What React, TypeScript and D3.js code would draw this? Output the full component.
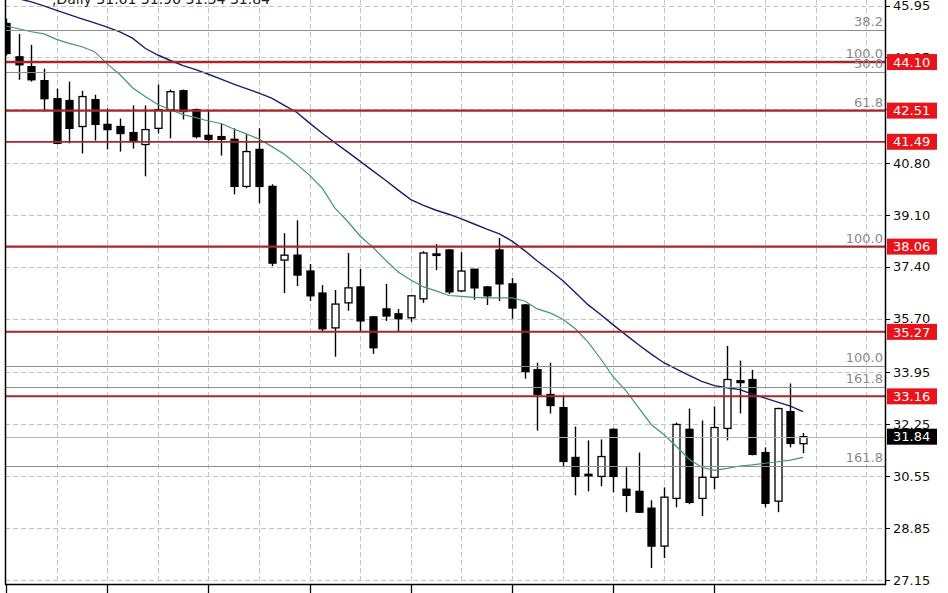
import * as React from 'react'
import { useEffect, useRef } from 'react'
import * as d3 from 'd3'

// daily candles, oldest first
const opens = [45.36, 44.27, 43.95, 43.49, 42.90, 42.84, 41.99, 42.87, 42.06, 41.99, 41.79, 41.40, 41.93, 42.54, 43.16, 42.54,
  41.70, 41.66, 41.57, 40.03, 41.24, 40.03, 37.62, 37.78, 37.26, 36.54, 35.40, 36.22, 36.74, 35.76, 36.02, 35.86,
  35.73, 36.35, 37.82, 37.95, 36.61, 37.32, 36.74, 37.95, 36.84, 36.15, 34.03, 33.22, 32.79, 31.16, 30.61, 30.54,
  32.08, 30.12, 30.05, 29.50, 28.26, 29.82, 32.08, 29.82, 30.51, 32.11, 33.67, 33.71, 31.32, 29.73, 32.66, 31.61]
const highs = [45.52, 45.02, 44.66, 43.88, 43.23, 43.46, 43.16, 43.03, 42.58, 42.25, 42.68, 42.68, 43.36, 43.20, 43.20, 42.58,
  42.51, 42.09, 41.93, 41.73, 41.93, 40.10, 38.50, 38.92, 37.49, 36.80, 36.64, 37.85, 37.33, 35.79, 36.84, 36.02,
  36.48, 37.91, 38.14, 37.98, 37.88, 37.33, 36.77, 38.34, 37.03, 36.18, 34.26, 34.26, 33.18, 32.17, 31.72, 31.75,
  32.11, 30.84, 31.32, 29.76, 30.18, 32.30, 32.76, 32.37, 32.83, 34.81, 34.33, 34.03, 31.49, 32.79, 33.58, 31.96]
const lows = [44.31, 43.52, 43.46, 42.48, 41.41, 41.44, 41.11, 41.53, 41.24, 41.17, 41.27, 40.36, 41.76, 41.60, 42.22, 41.60,
  41.44, 41.04, 39.77, 39.97, 39.48, 37.42, 36.54, 36.77, 36.28, 35.27, 34.46, 35.96, 35.27, 34.55, 35.63, 35.27,
  35.60, 36.22, 37.29, 36.51, 36.58, 36.32, 36.15, 36.28, 35.70, 33.74, 32.04, 32.60, 30.87, 29.92, 30.05, 30.22,
  30.02, 29.37, 29.34, 27.54, 27.87, 29.53, 29.63, 29.24, 30.12, 31.72, 32.60, 31.23, 29.53, 29.37, 31.49, 31.30]
const closes = [44.38, 44.01, 43.52, 42.90, 41.44, 41.93, 42.97, 42.06, 41.89, 41.76, 41.50, 41.89, 42.54, 43.13, 42.48, 41.66,
  41.57, 41.57, 40.03, 41.17, 40.03, 37.52, 37.78, 37.13, 36.45, 35.37, 36.18, 36.71, 35.63, 34.75, 35.79, 35.70,
  36.45, 37.85, 37.78, 36.58, 37.26, 36.71, 36.45, 36.84, 36.05, 33.97, 33.22, 32.86, 31.03, 30.54, 30.57, 31.19,
  30.54, 29.92, 29.37, 28.26, 29.86, 32.24, 29.69, 30.51, 32.14, 33.71, 33.61, 31.26, 29.66, 32.76, 31.62, 31.84]

// moving averages read per candle
const maSlow = [46.26, 46.17, 46.07, 45.94, 45.79, 45.65, 45.51, 45.38, 45.24, 45.09, 44.88, 44.55, 44.33, 44.15, 43.98, 43.85,
  43.70, 43.54, 43.38, 43.23, 43.08, 42.92, 42.68, 42.45, 42.10, 41.77, 41.46, 41.16, 40.85, 40.54, 40.23, 39.91,
  39.60, 39.41, 39.25, 39.12, 38.97, 38.80, 38.63, 38.48, 38.24, 37.93, 37.59, 37.28, 36.95, 36.56, 36.16, 35.84,
  35.50, 35.17, 34.85, 34.54, 34.26, 34.05, 33.85, 33.65, 33.51, 33.44, 33.38, 33.23, 33.10, 32.97, 32.84, 32.66]
const maFast = [45.28, 45.19, 45.09, 45.02, 44.84, 44.71, 44.60, 44.44, 44.04, 43.69, 43.26, 42.97, 42.71, 42.54, 42.38, 42.28,
  42.17, 42.09, 41.91, 41.75, 41.58, 41.34, 41.08, 40.75, 40.39, 39.97, 39.32, 38.89, 38.40, 38.04, 37.62, 37.23,
  36.97, 36.74, 36.61, 36.46, 36.43, 36.40, 36.38, 36.38, 36.38, 36.28, 36.02, 35.89, 35.69, 35.37, 34.94, 34.39,
  33.80, 33.35, 32.79, 32.24, 31.91, 31.52, 31.10, 30.84, 30.74, 30.80, 30.88, 30.92, 30.97, 31.02, 31.07, 31.16]

const priceTicks = [45.95, 44.25, 42.55, 40.80, 39.10, 37.40, 35.70, 33.95, 32.25, 30.55, 28.85, 27.15]
const redLevels = [44.10, 42.51, 41.49, 38.06, 35.27, 33.16]
const redWidths = [2.6, 2.4, 1.8, 2.4, 2, 2]
const fibLines = [45.15, 43.76, 34.16, 33.45, 30.88]
const fibTagValues = [45.15, 44.10, 43.76, 42.51, 38.06, 34.16, 33.45, 30.88]
const fibTagTexts = ['38.2', '100.0', '50.0', '61.8', '100.0', '100.0', '161.8', '161.8']
const lastPrice = 31.84
const header = ',Daily  31.61 31.96 31.54 31.84'

const App = () => {
  const chartRef = useRef<SVGSVGElement>(null)

  useEffect(() => {
    const svg = d3.select(chartRef.current)
    svg.selectAll('*').remove()

    const left = 5, right = 885, bottom = 584
    const font = 'DejaVu Sans, sans-serif'
    const y = d3.scaleLinear().domain([27.15, 45.95]).range([580, 5.5])
    const x = d3.scaleLinear().domain([0, opens.length - 1]).range([6, 803])

    svg.append('rect').attr('width', 948).attr('height', 593).attr('fill', '#fff')

    svg.append('defs').append('clipPath').attr('id', 'plot')
      .append('rect').attr('x', left).attr('y', 0).attr('width', right - left).attr('height', bottom)

    const grid = svg.append('g').attr('stroke', '#c4c4c4').attr('stroke-dasharray', '5,3')
    grid.selectAll('line.h').data(priceTicks).enter().append('line')
      .attr('x1', left).attr('x2', right)
      .attr('y1', d => Math.round(y(d)) + 0.5).attr('y2', d => Math.round(y(d)) + 0.5)
    grid.selectAll('line.v').data(d3.range(4, 69, 4)).enter().append('line')
      .attr('x1', d => Math.round(x(d)) + 0.5).attr('x2', d => Math.round(x(d)) + 0.5)
      .attr('y1', 0).attr('y2', bottom)

    const plot = svg.append('g').attr('clip-path', 'url(#plot)')

    // candles
    const candles = plot.selectAll('g.c').data(opens.map((o, i) => i)).enter().append('g')
    candles.append('line')
      .attr('x1', i => Math.round(x(i)) + 0.5).attr('x2', i => Math.round(x(i)) + 0.5)
      .attr('y1', i => y(highs[i])).attr('y2', i => y(lows[i]))
      .attr('stroke', '#000').attr('stroke-width', 1.4)
    candles.append('rect')
      .attr('x', i => Math.round(x(i)) - 3)
      .attr('y', i => y(Math.max(opens[i], closes[i])))
      .attr('width', 7)
      .attr('height', i => Math.max(1.5, Math.abs(y(opens[i]) - y(closes[i]))))
      .attr('fill', i => closes[i] >= opens[i] ? '#fff' : '#000')
      .attr('stroke', '#000').attr('stroke-width', 1.3)

    const line = d3.line<number>().x((d, i) => x(i)).y(d => y(d))
    plot.append('path').attr('d', line(maFast)).attr('fill', 'none')
      .attr('stroke', '#3f9a70').attr('stroke-width', 1.2)
    plot.append('path').attr('d', line(maSlow)).attr('fill', 'none')
      .attr('stroke', '#1c1c6a').attr('stroke-width', 1.4)

    // fibo levels and bid line
    plot.selectAll('line.fib').data(fibLines).enter().append('line')
      .attr('x1', left).attr('x2', right)
      .attr('y1', d => Math.round(y(d)) + 0.5).attr('y2', d => Math.round(y(d)) + 0.5)
      .attr('stroke', '#8e8e8e').attr('stroke-width', 1.2)
    plot.append('line')
      .attr('x1', left).attr('x2', right)
      .attr('y1', Math.round(y(lastPrice)) + 0.5).attr('y2', Math.round(y(lastPrice)) + 0.5)
      .attr('stroke', '#b4b4b4')

    plot.selectAll('line.red').data(redLevels).enter().append('line')
      .attr('x1', left).attr('x2', right)
      .attr('y1', d => y(d)).attr('y2', d => y(d))
      .attr('stroke', '#a8262a').attr('stroke-width', (d, i) => redWidths[i])

    svg.selectAll('text.fib').data(fibTagValues).enter().append('text')
      .attr('x', 883).attr('y', d => y(d) - 4)
      .attr('text-anchor', 'end')
      .style('font-family', font).style('font-size', '13px')
      .attr('fill', '#8a8a8a')
      .text((d, i) => fibTagTexts[i])

    // frame
    svg.append('line').attr('x1', left + 0.5).attr('x2', left + 0.5).attr('y1', 0).attr('y2', bottom + 1)
      .attr('stroke', '#000').attr('stroke-width', 1.5)
    svg.append('line').attr('x1', right + 0.5).attr('x2', right + 0.5).attr('y1', 0).attr('y2', bottom + 1)
      .attr('stroke', '#000').attr('stroke-width', 1.5)
    svg.append('line').attr('x1', left).attr('x2', right + 1).attr('y1', bottom + 0.5).attr('y2', bottom + 0.5)
      .attr('stroke', '#000').attr('stroke-width', 1.5)

    svg.selectAll('line.bt').data(d3.range(0, 57, 8)).enter().append('line')
      .attr('x1', d => Math.round(x(d)) + 0.5).attr('x2', d => Math.round(x(d)) + 0.5)
      .attr('y1', bottom).attr('y2', 593)
      .attr('stroke', '#000').attr('stroke-width', 1.3)

    // price axis
    const axis = svg.append('g')
    axis.selectAll('line').data(priceTicks).enter().append('line')
      .attr('x1', right).attr('x2', right + 5)
      .attr('y1', d => Math.round(y(d)) + 0.5).attr('y2', d => Math.round(y(d)) + 0.5)
      .attr('stroke', '#000')
    axis.selectAll('text').data(priceTicks).enter().append('text')
      .attr('x', 893).attr('y', d => y(d))
      .attr('dy', '0.36em')
      .style('font-family', font).style('font-size', '13px')
      .attr('fill', '#111')
      .text(d => d.toFixed(2))

    const tags = svg.selectAll('g.tag').data(redLevels).enter().append('g')
    tags.append('rect')
      .attr('x', 887).attr('y', d => y(d) - 8).attr('width', 50).attr('height', 16)
      .attr('fill', '#e8141c')
    tags.append('text')
      .attr('x', 893).attr('y', d => y(d)).attr('dy', '0.36em')
      .style('font-family', font).style('font-size', '13px')
      .attr('fill', '#fff')
      .text(d => d.toFixed(2))

    const bid = svg.append('g')
    bid.append('rect').attr('x', 887).attr('y', y(lastPrice) - 8).attr('width', 50).attr('height', 16)
      .attr('fill', '#000')
    bid.append('text').attr('x', 893).attr('y', y(lastPrice)).attr('dy', '0.36em')
      .style('font-family', font).style('font-size', '13px')
      .attr('fill', '#fff').text(lastPrice.toFixed(2))

    svg.append('text').attr('x', 52).attr('y', 4)
      .style('font-family', font).style('font-size', '14px')
      .attr('fill', '#222').text(header)
  }, [])

  return (
    <svg ref={chartRef} width={948} height={593}
      style={{ position: 'absolute', left: 0, top: 0, display: 'block' }}></svg>
  )
}

export default App
